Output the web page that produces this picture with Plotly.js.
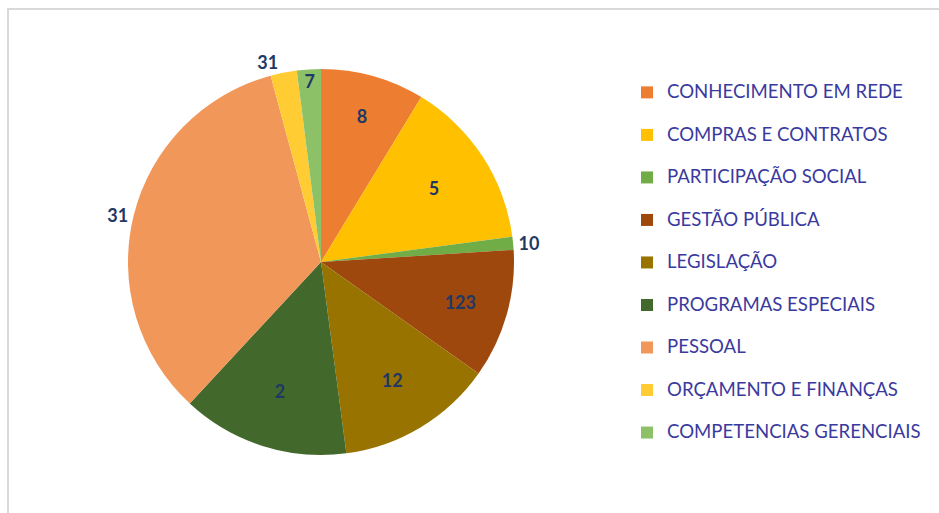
<!DOCTYPE html>
<html>
<head>
<meta charset="utf-8">
<script src="https://cdn.plot.ly/plotly-3.0.1.min.js"></script>
<style>
html,body{margin:0;padding:0;background:#fff;}
#frame{position:absolute;left:7px;top:8px;width:940px;height:520px;border-left:2px solid #D9D9D9;border-top:2px solid #D9D9D9;}
#chart{position:absolute;left:0;top:0;width:939px;height:513px;}
</style>
</head>
<body>
<div id="frame"></div>
<div id="chart"></div>
<script>
const categories = ["CONHECIMENTO EM REDE","COMPRAS E CONTRATOS","PARTICIPAÇÃO SOCIAL","GESTÃO PÚBLICA","LEGISLAÇÃO","PROGRAMAS ESPECIAIS","PESSOAL","ORÇAMENTO E FINANÇAS","COMPETENCIAS GERENCIAIS"];
const sliceShares = [8.7, 14.2, 1.1, 10.8, 13.1, 14.0, 33.9, 2.2, 2.0];
const dataLabels = ["8","5","10","123","12","2","31","31","7"];
const colors = ["#ED7D31","#FFC000","#70AD47","#9E480E","#997300","#43682B","#F1975A","#FFCD33","#8CC168"];
const labelPositions = ["inside","inside","outside","inside","inside","inside","outside","outside","inside"];

const labelFont = {family: "Lato, 'Open Sans', sans-serif", size: 18, color: "#1F3864", weight: "bold"};

const trace = {
  type: "pie",
  labels: categories.map(c => "<span style='font-size:18.6px'>" + c + "</span><br> "),
  values: sliceShares,
  text: dataLabels,
  textinfo: "text",
  textposition: labelPositions,
  insidetextorientation: "horizontal",
  sort: false,
  direction: "clockwise",
  rotation: 0,
  marker: {colors: colors, line: {width: 0}},
  textfont: labelFont,
  insidetextfont: labelFont,
  outsidetextfont: labelFont,
  domain: {x: [128/939, 514/939], y: [58/513, 444/513]},
  hoverinfo: "text",
  showlegend: true
};

const layout = {
  width: 939, height: 513,
  margin: {l: 0, r: 0, t: 0, b: 0},
  paper_bgcolor: "rgba(0,0,0,0)",
  plot_bgcolor: "rgba(0,0,0,0)",
  uniformtext: {mode: "show", minsize: 18},
  showlegend: true,
  legend: {
    x: 627/939, xanchor: "left",
    y: 1 - 76/513, yanchor: "top",
    font: {family: "Lato, 'Open Sans', sans-serif", size: 15.2, color: "#3A3A9E"},
    valign: "top",
    itemclick: false,
    bgcolor: "rgba(0,0,0,0)"
  }
};

Plotly.newPlot("chart", [trace], layout, {displayModeBar: false, staticPlot: true});
</script>
</body>
</html>
